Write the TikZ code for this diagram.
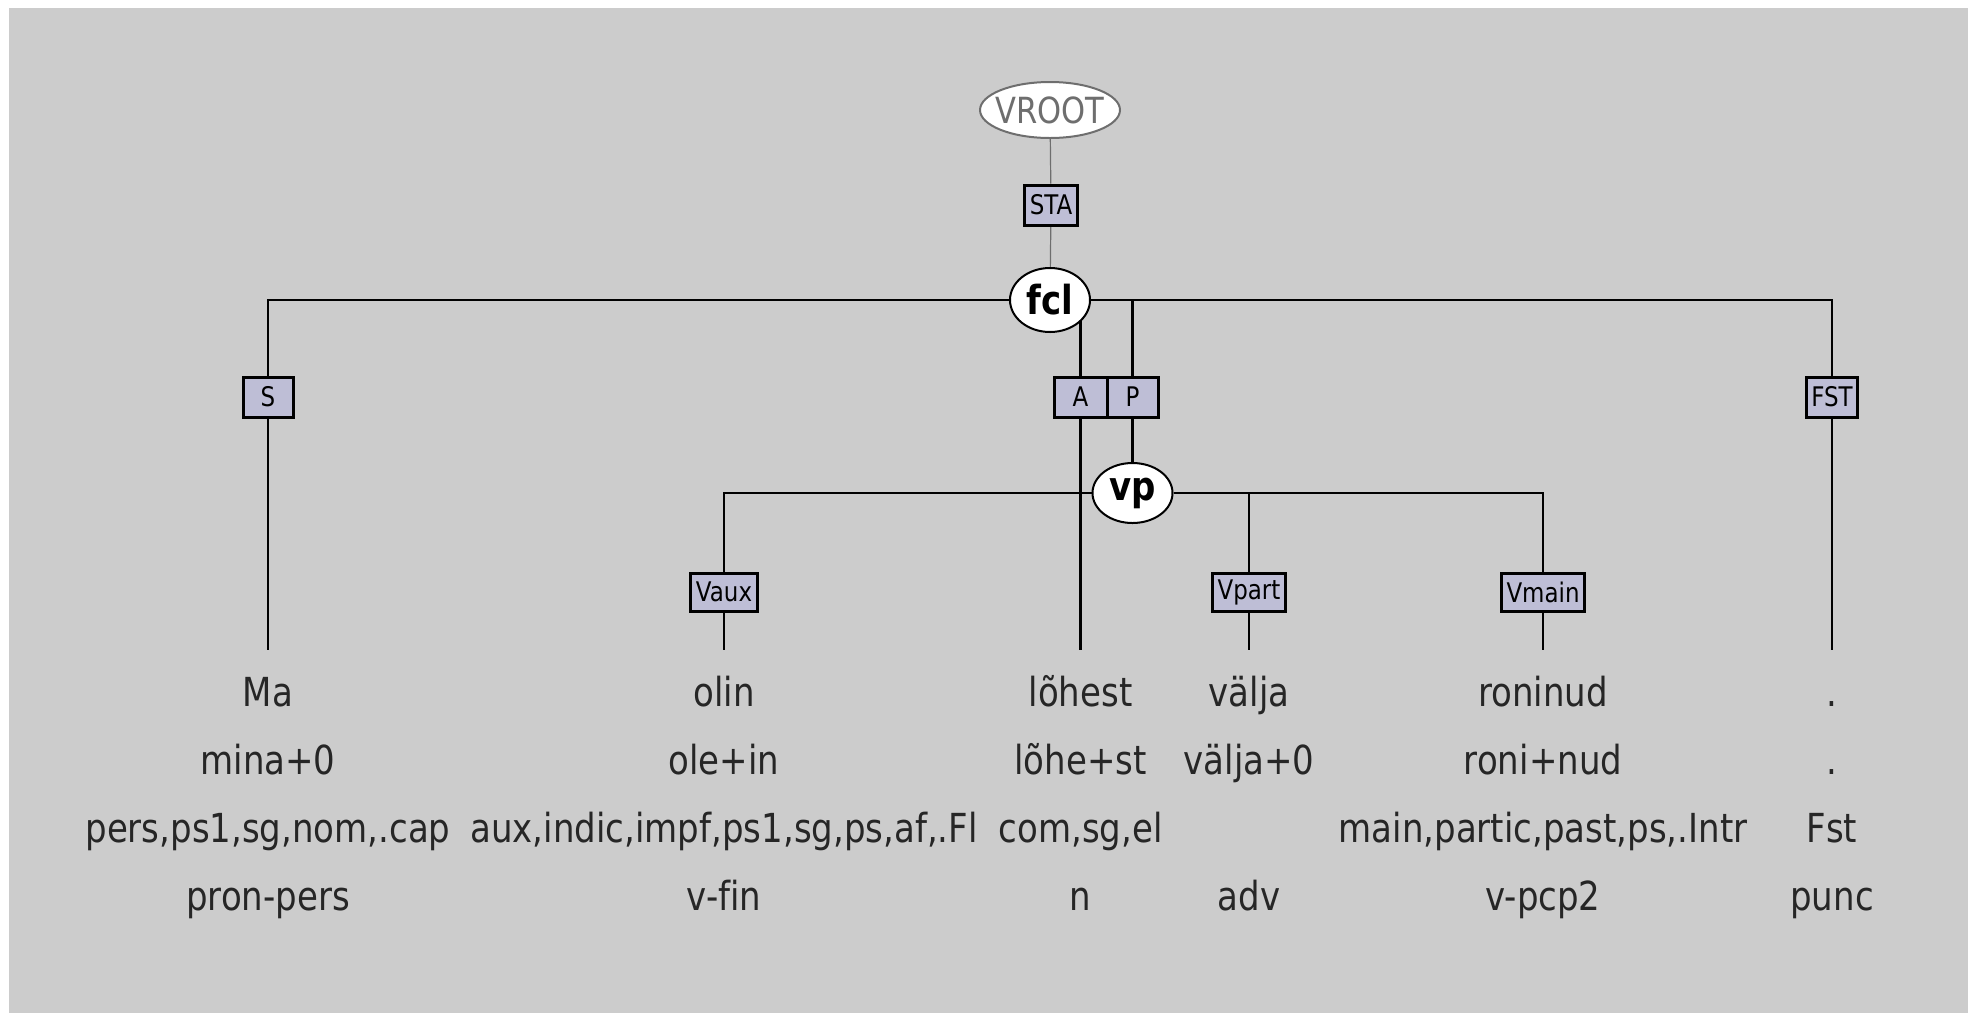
\documentclass[tikz,border=0pt]{standalone}
\usepackage{fontspec}
\setmainfont{DejaVu Sans}[FakeStretch=0.85, RawFeature=-liga]
\usetikzlibrary{shapes.geometric}
\pgfdeclarelayer{bglayer}
\pgfdeclarelayer{edgelayer}
\pgfsetlayers{bglayer,edgelayer,main}
\definecolor{bggray}{RGB}{204,204,204}
\definecolor{labfill}{RGB}{190,190,214}
\definecolor{rootgray}{RGB}{110,110,110}
\tikzset{
  lab/.style={draw=black, line width=1.5pt, fill=labfill, inner xsep=2.5pt, inner ysep=0pt,
    minimum width=25pt, minimum height=20pt, font=\fontsize{13.5}{16}\selectfont},
  phrase/.style={ellipse, draw=black, line width=1pt, fill=white, inner sep=0pt,
    minimum width=40pt, minimum height=32pt, font=\bfseries\fontsize{20}{24}\selectfont},
  rootnode/.style={ellipse, draw=rootgray, line width=1pt, fill=white, inner xsep=-10pt, inner ysep=0pt,
    minimum width=70pt, minimum height=28pt, text=rootgray, font=\fontsize{18}{22}\selectfont},
  conn/.style={line width=1.3pt, draw=black},
  rootconn/.style={line width=0.6pt, draw=rootgray},
  wordtxt/.style={anchor=base, inner sep=0pt, font=\fontsize{20}{24}\selectfont, text=black!85},
  wordtop/.style={wordtxt, text height=15pt, text depth=4pt, inner ysep=13pt},
}
\begin{document}
\begin{tikzpicture}[x=0.5pt,y=-0.5pt]
\useasboundingbox (0,0) rectangle (1974,1013);
\begin{pgfonlayer}{bglayer}
\fill[white] (0,0) rectangle (1974,1013);
\fill[bggray] (9,8) rectangle (1968,1013);
\end{pgfonlayer}

% phrase nodes
\node[rootnode] (vroot) at (1050,110) {VROOT};
\node[lab] (sta) at (1051,205) {STA};
\node[phrase] (fcl) at (1050,300) {fcl};
\node[lab] (S) at (268,397) {S};
\node[lab, minimum width=26.5pt] (A) at (1080.5,397) {A};
\node[lab, minimum width=25.5pt] (P) at (1132.5,397) {P};
\node[lab] (FST) at (1832,397) {FST};
\node[phrase, minimum height=30pt] (vp) at (1132.5,493) {vp};
\node[lab, minimum height=19pt] (Vaux) at (724,592) {Vaux};
\node[lab, minimum height=19pt] (Vpart) at (1249,592) {Vpart};
\node[lab, minimum height=19pt] (Vmain) at (1543,592) {Vmain};

% words
\node[wordtop] (w1a) at (268,706) {Ma};
\node[wordtxt] (w1b) at (268,774) {mina+0};
\node[wordtxt] (w1c) at (268,842) {pers,ps1,sg,nom,.cap};
\node[wordtxt] (w1d) at (268,910) {pron-pers};

\node[wordtop] (w2a) at (724,706) {olin};
\node[wordtxt] (w2b) at (724,774) {ole+in};
\node[wordtxt] (w2c) at (724,842) {aux,indic,impf,ps1,sg,ps,af,.Fl};
\node[wordtxt] (w2d) at (724,910) {v-fin};

\node[wordtop] (w3a) at (1080.5,706) {lõhest};
\node[wordtxt] (w3b) at (1080.5,774) {lõhe+st};
\node[wordtxt] (w3c) at (1080.5,842) {com,sg,el};
\node[wordtxt] (w3d) at (1080.5,910) {n};

\node[wordtop] (w4a) at (1249,706) {välja};
\node[wordtxt] (w4b) at (1249,774) {välja+0};
\node[wordtxt] (w4d) at (1249,910) {adv};

\node[wordtop] (w5a) at (1543,706) {roninud};
\node[wordtxt] (w5b) at (1543,774) {roni+nud};
\node[wordtxt] (w5c) at (1543,842) {main,partic,past,ps,.Intr};
\node[wordtxt] (w5d) at (1543,910) {v-pcp2};

\node[wordtop] (w6a) at (1832,706) {.};
\node[wordtxt] (w6b) at (1832,774) {.};
\node[wordtxt] (w6c) at (1832,842) {Fst};
\node[wordtxt] (w6d) at (1832,910) {punc};

\begin{pgfonlayer}{edgelayer}
\draw[rootconn] (vroot) -- (sta);
\draw[rootconn] (sta) -- (fcl);
\draw[conn] (fcl) -| (S);
\draw[conn] (fcl) -| (FST);
\draw[conn] (fcl) -| (P);
\draw[conn] (A.north |- fcl.center) -- (A.north);
\draw[conn] (P) -- (vp);
\draw[conn] (vp) -| (Vaux);
\draw[conn] (vp) -| (Vpart);
\draw[conn] (vp) -| (Vmain);
\draw[conn] (S) -- (w1a);
\draw[conn] (Vaux) -- (w2a);
\draw[conn] (A) -- (w3a);
\draw[conn] (Vpart) -- (w4a);
\draw[conn] (Vmain) -- (w5a);
\draw[conn] (FST) -- (w6a);
\end{pgfonlayer}
\end{tikzpicture}
\end{document}
